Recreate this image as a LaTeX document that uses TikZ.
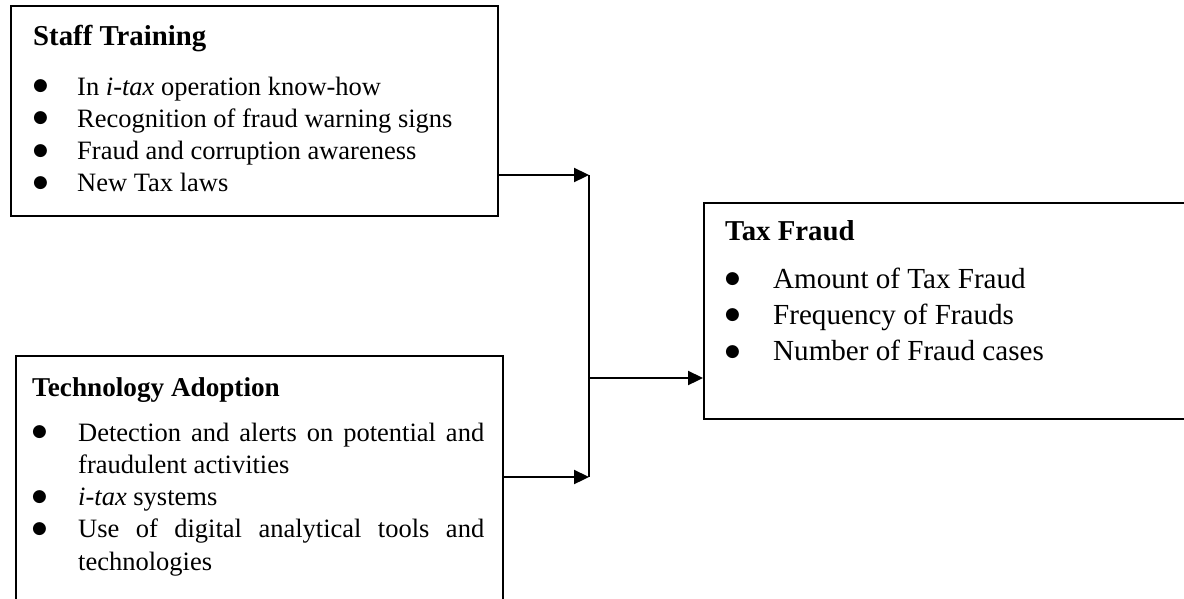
\documentclass[tikz,border=0pt]{standalone}
\usepackage{fontspec}
\setmainfont{Liberation Serif}
\newfontfamily\dotfont{DejaVu Sans}
\usepackage{tikz}
\usetikzlibrary{arrows.meta}

% font size with a normal word space
\newcommand{\fsz}[2]{\fontsize{#1}{#2}\selectfont\spaceskip=0.25em plus 0.15em minus 0.05em\relax}
% bullet item with hanging indent
\newcommand{\fbul}[1][44pt]{\par\noindent\hangindent=#1\hangafter=1\makebox[#1][l]{\raisebox{4.5pt}{\dotfont\fontsize{17}{17}\selectfont ●}}\ignorespaces}

\begin{document}
\begin{tikzpicture}[x=1pt,y=-1pt]

    \tikzstyle{box} = [draw, line width=2pt, anchor=north west, inner sep=0pt]
    \tikzstyle{txt} = [anchor=base west, inner sep=0pt, text width=440pt, align=justify]
    \tikzstyle{arr} = [line width=2.3pt, -{Triangle[length=15pt,width=14pt]}]

    \path[use as bounding box, clip] (0,0) rectangle (1184,598);

    % Boxes
    \node[box, minimum width=487pt, minimum height=210pt] at (10,5) (staff) {};
    \node[box, minimum width=487pt, minimum height=260pt] at (15,355) (tech) {};
    \node[box, minimum width=500pt, minimum height=216pt] at (703,202) (tax) {};

    % Texts
    \node[txt] at (33,45) (stafftxt) {%
        {\fsz{28.8}{34}\bfseries Staff Training\par}
        \vspace{17.7pt}
        \fsz{26.5}{32.3}
        \fbul In \textit{i-tax} operation know-how
        \fbul Recognition of fraud warning signs
        \fbul Fraud and corruption awareness
        \fbul New Tax laws\par};
    \node[txt, text width=452pt] at (32,396) (techtxt) {%
        {\fsz{27.2}{32}\bfseries Technology Adoption\par}
        \vspace{12.7pt}
        \fsz{26.5}{32.3}
        \fbul[46pt] Detection and alerts on potential and\linebreak fraudulent activities
        \fbul[46pt] \textit{i-tax} systems
        \fbul[46pt] Use of digital analytical tools and\linebreak technologies\par};
    \node[txt, text width=420pt] at (725,240) (taxtxt) {%
        {\fsz{28.8}{34}\bfseries Tax Fraud\par}
        \vspace{11.7pt}
        \fsz{29.1}{36.3}
        \fbul[48pt] Amount of Tax Fraud
        \fbul[48pt] Frequency of Frauds
        \fbul[48pt] Number of Fraud cases\par};

    % Bus line
    \coordinate (bustop) at (589,175);
    \coordinate (busmid) at (589,378);
    \coordinate (busbot) at (589,477);

    % Arrows
    \draw[line width=2.3pt] (bustop) -- (busbot);
    \draw[arr] (staff.east |- bustop) -- (bustop);
    \draw[arr] (tech.east |- busbot) -- (busbot);
    \draw[arr] (busmid) -- (tax.west |- busmid);

\end{tikzpicture}
\end{document}
